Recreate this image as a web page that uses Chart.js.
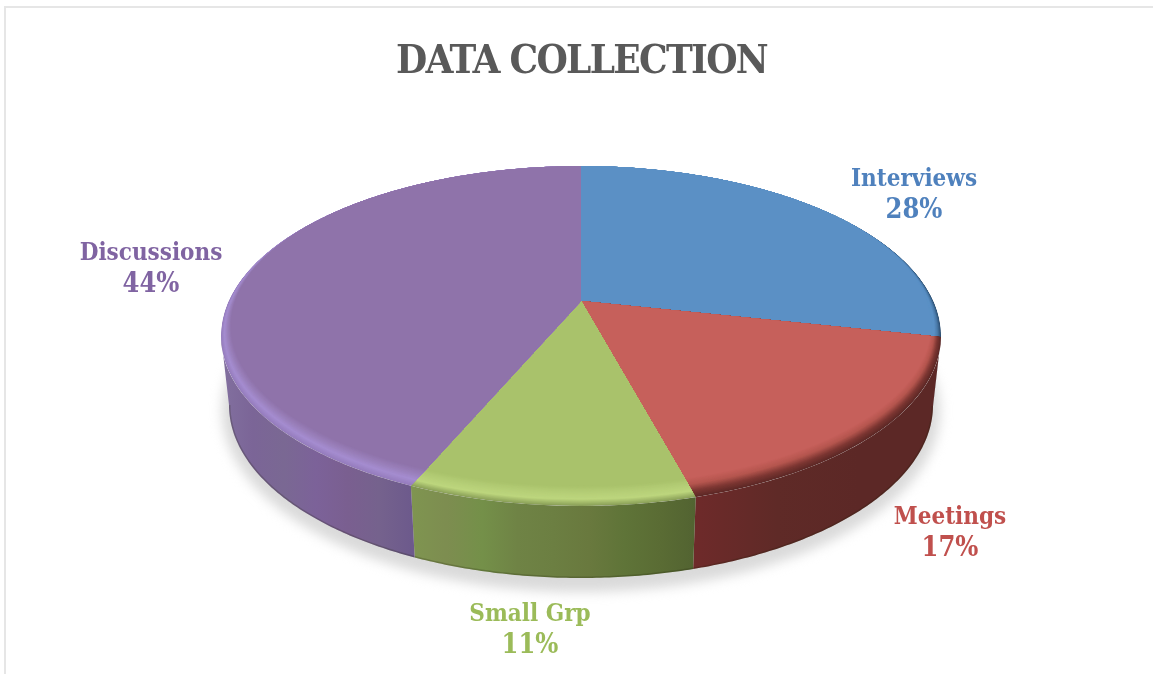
<!DOCTYPE html>
<html>
<head>
<meta charset="utf-8">
<style>
  body { margin: 0; background: #fff; overflow: hidden; }
  #chart { position: absolute; left: 0; top: 0; }
  .frame { position: absolute; left: 4px; top: 6px; right: 0; bottom: 0; border-left: 2px solid #e6e6e6; border-top: 2px solid #e6e6e6; pointer-events: none; }
</style>
</head>
<body>
<canvas id="chart" width="1153" height="674"></canvas>
<div class="frame"></div>
<script src="https://cdn.jsdelivr.net/npm/chart.js@4/dist/chart.umd.js"></script>
<script>
const categories = ['Interviews', 'Meetings', 'Small Grp', 'Discussions'];
const shares = [28.4, 17.4, 10.6, 43.6];

const faceColors = ['#5b90c5', '#c6605b', '#a9c26b', '#8f73aa'];
const labelColors = ['#4f81bd', '#c0504d', '#9bbb59', '#8064a2'];
// where each label is centred, in page pixels
const labelSpots = [[914, 178], [950, 516], [530, 613], [151, 252]];

// rim shading, outer edge first, ends on the face colour
const rimColors = [
  ['#2b4c6e', '#4a7aa8', '#5b90c5', '#5b90c5'],
  ['#5c2826', '#7d3733', '#b5564f', '#c6605b'],
  ['#8a9f58', '#bdd67e', '#b4cd76', '#a9c26b'],
  ['#957cbc', '#a58dd0', '#9a80bb', '#8f73aa'],
];
const wallColors = [
  ['#2f4f70', '#2f4f70'],
  ['#6e2a2a', '#5f2a27', '#5c2826', '#5c2826'],
  ['#7f9550', '#7d8d50', '#749049', '#6f8345', '#6c7f42', '#69793e', '#5f7438', '#5a6c34', '#526331'],
  ['#82709f', '#7b6597', '#7a6893', '#7c6299', '#7a5f90', '#75628d', '#6d5a8c'],
];

// tilted disc: the top face is seen in perspective, the apex sits above the ellipse centre
const view = { cx: 581, apexY: 301, radius: 352.3, depth: 162.8, persp: 0.2059 };
const topFace = { cy: 336, rx: 360, ry: 170 };
const baseFace = { cy: 405, rx: 352, ry: 173 };

function project(angle) {
  const u = Math.cos(angle);
  const v = Math.sin(angle);
  const w = 1 - view.persp * v;
  return { x: view.cx + view.radius * u / w, y: view.apexY + view.depth * v / w };
}

function toBase(p) {
  return {
    x: view.cx + (p.x - view.cx) * baseFace.rx / topFace.rx,
    y: baseFace.cy + (p.y - topFace.cy) * baseFace.ry / topFace.ry,
  };
}

function rimPoints(start, end) {
  const steps = Math.max(2, Math.ceil((end - start) / 0.01));
  const pts = [];
  for (let i = 0; i <= steps; i++) pts.push(project(start + (end - start) * i / steps));
  return pts;
}

function mix(a, b, t) {
  const ca = [1, 3, 5].map((i) => parseInt(a.substr(i, 2), 16));
  const cb = [1, 3, 5].map((i) => parseInt(b.substr(i, 2), 16));
  return `rgb(${ca.map((c, i) => Math.round(c + (cb[i] - c) * t)).join(',')})`;
}

function rampColor(stops, t) {
  const pos = t * (stops.length - 1);
  const i = Math.min(Math.floor(pos), stops.length - 2);
  return mix(stops[i], stops[i + 1], pos - i);
}

function drawWall(ctx, arc, index) {
  // only the part of the rim between the left and right extremes faces the viewer
  const turn = Math.asin(view.persp);
  const start = Math.max(arc.startAngle, turn);
  const end = Math.min(arc.endAngle, Math.PI - turn);
  if (end <= start) return;

  const top = rimPoints(start, end);
  const base = top.map(toBase);
  const xs = top.map((p) => p.x);
  const grad = ctx.createLinearGradient(Math.min(...xs), 0, Math.max(...xs), 0);
  wallColors[index].forEach((c, i, all) => grad.addColorStop(i / (all.length - 1), c));

  ctx.beginPath();
  top.forEach((p, i) => (i ? ctx.lineTo(p.x, p.y) : ctx.moveTo(p.x, p.y)));
  base.slice().reverse().forEach((p) => ctx.lineTo(p.x, p.y));
  ctx.closePath();
  ctx.fillStyle = grad;
  ctx.fill();

  // darker line along the bottom edge
  ctx.save();
  ctx.clip();
  ctx.beginPath();
  base.forEach((p, i) => (i ? ctx.lineTo(p.x, p.y) : ctx.moveTo(p.x, p.y)));
  ctx.strokeStyle = 'rgba(30,30,10,0.22)';
  ctx.lineWidth = 3;
  ctx.stroke();
  ctx.restore();
}

function drawFace(ctx, arc, index) {
  const rim = rimPoints(arc.startAngle, arc.endAngle);
  ctx.save();
  ctx.beginPath();
  ctx.moveTo(view.cx, view.apexY);
  rim.forEach((p) => ctx.lineTo(p.x, p.y));
  ctx.closePath();
  ctx.clip();

  // nested ellipses all touching the back edge, so the bevel is widest in front
  const bevel = 10;
  const steps = 30;
  for (let i = 0; i <= steps; i++) {
    const t = i / steps;
    const d = bevel * t;
    ctx.beginPath();
    ctx.ellipse(view.cx, topFace.cy - d, topFace.rx - d, topFace.ry - d, 0, 0, Math.PI * 2);
    ctx.fillStyle = rampColor(rimColors[index], t);
    ctx.fill();
  }
  ctx.restore();
}

const tiltedPie = {
  id: 'tiltedPie',
  beforeDraw(chart) {
    // tighten the title, the serif available here runs wider than the original
    chart.ctx.letterSpacing = '-1.7px';
  },
  beforeDatasetDraw(chart) {
    const { ctx } = chart;
    const arcs = chart.getDatasetMeta(0).data;
    ctx.letterSpacing = '0px';

    // soft shadow under the disc
    ctx.save();
    ctx.filter = 'blur(6px)';
    ctx.fillStyle = '#dadada';
    ctx.beginPath();
    ctx.ellipse(view.cx, baseFace.cy + 6, baseFace.rx + 7, baseFace.ry + 8, 0, 0, Math.PI * 2);
    ctx.fill();
    ctx.restore();

    arcs.forEach((arc, i) => drawWall(ctx, arc, i));
    arcs.forEach((arc, i) => drawFace(ctx, arc, i));
    return false;
  },
  afterDatasetsDraw(chart) {
    const { ctx } = chart;
    const values = chart.data.datasets[0].data;
    const family = '"DejaVu Serif Condensed", "DejaVu Serif", serif';
    ctx.save();
    ctx.textAlign = 'center';
    ctx.textBaseline = 'middle';
    chart.data.labels.forEach((name, i) => {
      const [x, y] = labelSpots[i];
      ctx.fillStyle = labelColors[i];
      ctx.font = `bold 24px ${family}`;
      ctx.fillText(name, x, y + 2);
      ctx.font = `bold 27px ${family}`;
      ctx.fillText(`${Math.round(values[i])}%`, x, y + 33);
    });
    ctx.restore();
  },
};

new Chart(document.getElementById('chart'), {
  type: 'pie',
  data: {
    labels: categories,
    datasets: [{ data: shares, backgroundColor: faceColors, borderWidth: 0 }],
  },
  options: {
    responsive: false,
    animation: false,
    layout: { padding: { left: 10 } },
    plugins: {
      legend: { display: false },
      tooltip: { enabled: false },
      title: {
        display: true,
        text: 'DATA COLLECTION',
        color: '#595959',
        font: { family: '"DejaVu Serif Condensed", "DejaVu Serif", serif', size: 40, weight: 'bold' },
        padding: { top: 39, bottom: 10 },
      },
    },
  },
  plugins: [tiltedPie],
});
</script>
</body>
</html>
